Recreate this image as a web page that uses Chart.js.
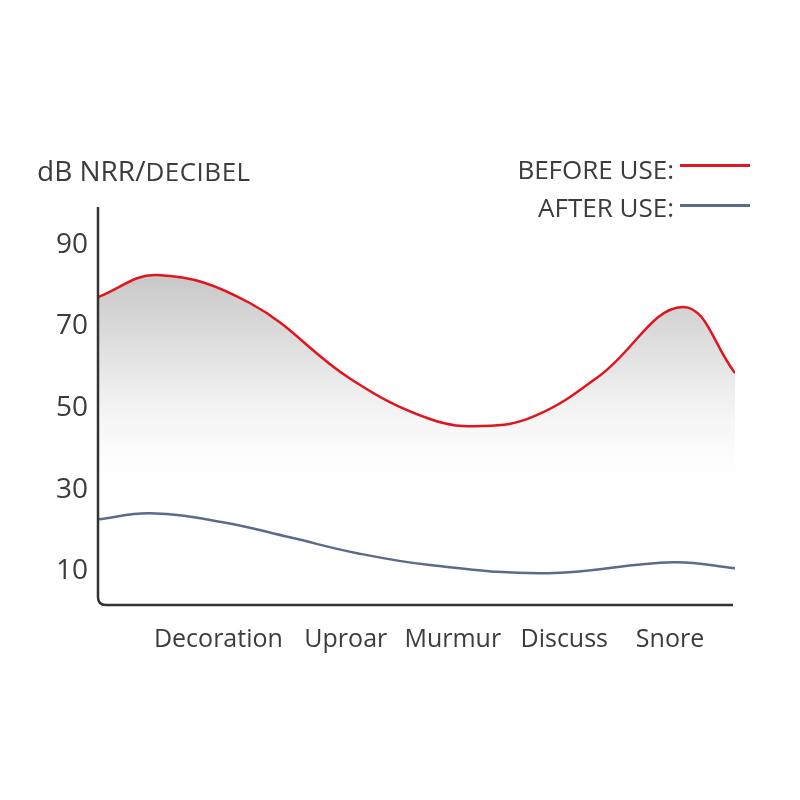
<!DOCTYPE html>
<html>
<head>
<meta charset="utf-8">
<script src="https://cdn.jsdelivr.net/npm/chart.js@4.4.0/dist/chart.umd.min.js"></script>
<style>
  body { margin: 0; background: #fff; font-family: "Open Sans", sans-serif; color: #3c3c3c; }
  #wrap { position: relative; width: 800px; height: 800px; }
  #title { position: absolute; left: 37px; top: 151px; font-size: 28px; white-space: nowrap; }
  #title small { font-size: 26px; letter-spacing: 0.5px; }
  .leg { position: absolute; right: 50px; font-size: 26px; display: flex; align-items: center; white-space: nowrap; }
  .leg i { display: inline-block; width: 70px; height: 3px; margin-left: 6px; }
</style>
</head>
<body>
<div id="wrap">
  <canvas id="chart" width="800" height="800"></canvas>
  <div id="title">dB NRR/<small>DECIBEL</small></div>
  <div class="leg" style="top:151px">BEFORE USE:<i style="background:#e2141f; margin-top:-8px"></i></div>
  <div class="leg" style="top:189px">AFTER USE:<i style="background:#5b6b8a; margin-top:-4px"></i></div>
</div>
<script>
// category labels and where they sit along the x axis (0-100)
const categories = ["Decoration", "Uproar", "Murmur", "Discuss", "Snore"];
const categoryPos = [18.9, 38.9, 55.7, 73.2, 89.8];
const yTicks = [10, 30, 50, 70, 90];

// curve samples: x along axis (0-100), value in dB
const beforeX = [0, 9.3, 23.9, 39.6, 52.1, 60.4, 68.5, 78.8, 91.8, 100];
const beforeY = [77.2, 82.6, 75.7, 57.2, 47.3, 45.6, 48.0, 58.0, 74.8, 58.6];
const afterX = [0, 8.2, 19.6, 30.1, 40.7, 52.1, 70.5, 90.3, 100];
const afterY = [22.7, 24.2, 22.0, 18.3, 14.4, 11.5, 9.5, 12.2, 10.7];

const toPoints = (xs, ys) => xs.map((x, i) => ({ x: x, y: ys[i] }));

// axis lines with the rounded bottom-left corner
const axisLines = {
  id: "axisLines",
  afterDatasetsDraw(chart) {
    const { ctx, chartArea: a } = chart;
    const r = 8;
    ctx.save();
    ctx.strokeStyle = "#333";
    ctx.lineWidth = 2.5;
    ctx.beginPath();
    ctx.moveTo(a.left, a.top);
    ctx.lineTo(a.left, a.bottom - r);
    ctx.quadraticCurveTo(a.left, a.bottom, a.left + r, a.bottom);
    ctx.lineTo(a.right - 2, a.bottom);
    ctx.stroke();
    ctx.restore();
  }
};

const ctx = document.getElementById("chart").getContext("2d");
new Chart(ctx, {
  type: "line",
  data: {
    datasets: [
      {
        label: "BEFORE USE:",
        data: toPoints(beforeX, beforeY),
        order: 1,
        borderColor: "#e2141f",
        borderWidth: 2.5,
        pointRadius: 0,
        tension: 0.4,
        fill: "origin",
        backgroundColor: (c) => {
          const area = c.chart.chartArea;
          if (!area) return "rgba(0,0,0,0)";
          const ys = c.chart.scales.y;
          const g = c.chart.ctx.createLinearGradient(0, ys.getPixelForValue(84), 0, ys.getPixelForValue(27));
          g.addColorStop(0, "#c6c6c6");
          g.addColorStop(0.5, "#ececec");
          g.addColorStop(1, "rgba(255,255,255,0)");
          return g;
        }
      },
      {
        label: "AFTER USE:",
        data: toPoints(afterX, afterY),
        order: 0,
        borderColor: "#5b6b8a",
        borderWidth: 2.5,
        pointRadius: 0,
        tension: 0.4,
        fill: false
      }
    ]
  },
  options: {
    responsive: false,
    animation: false,
    layout: { padding: { top: 207, right: 65, left: 0, bottom: 0 } },
    plugins: { legend: { display: false }, tooltip: { enabled: false } },
    scales: {
      x: {
        type: "linear",
        min: 0,
        max: 100,
        grid: { display: false, drawTicks: false },
        border: { display: false },
        afterBuildTicks: (s) => { s.ticks = categoryPos.map((v) => ({ value: v })); },
        afterFit: (s) => { s.height = 195; },
        ticks: {
          padding: 20,
          autoSkip: false,
          maxRotation: 0,
          color: "#3c3c3c",
          font: { family: "Open Sans", size: 25 },
          callback: (v) => categories[categoryPos.indexOf(v)]
        }
      },
      y: {
        min: 1.7,
        max: 99.3,
        grid: { display: false, drawTicks: false },
        border: { display: false },
        afterBuildTicks: (s) => { s.ticks = yTicks.map((v) => ({ value: v })); },
        afterFit: (s) => { s.width = 98; },
        ticks: {
          padding: 10,
          color: "#3c3c3c",
          font: { family: "Open Sans", size: 28 }
        }
      }
    }
  },
  plugins: [axisLines]
});
</script>
</body>
</html>
